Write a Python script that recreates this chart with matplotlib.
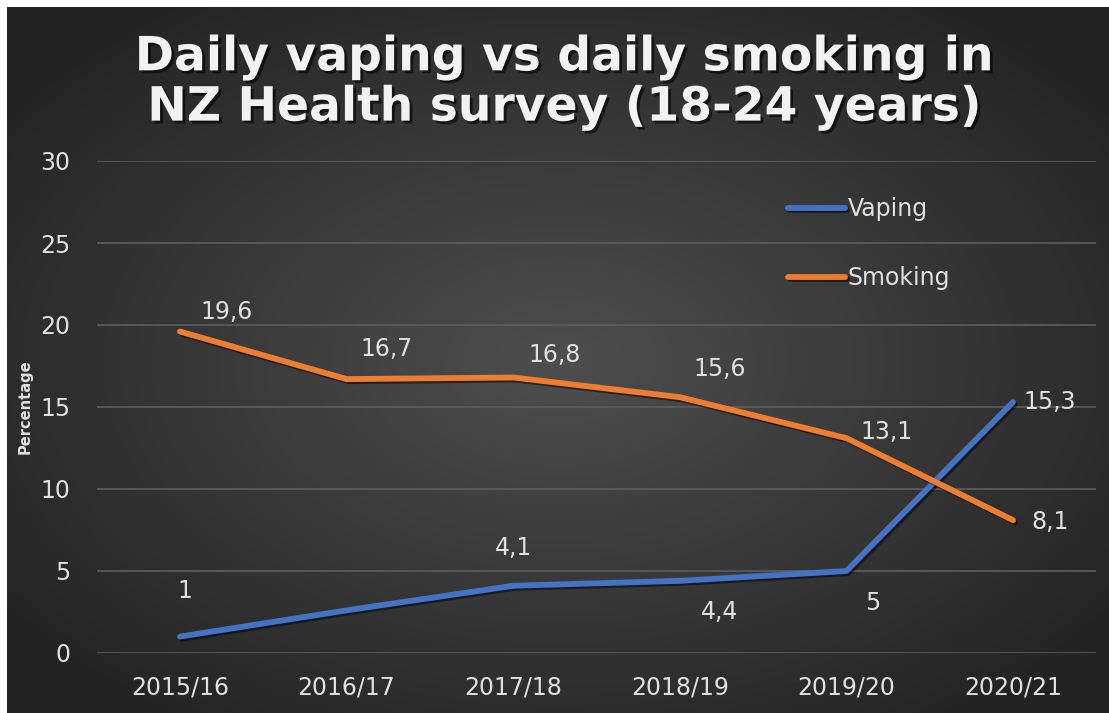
import matplotlib
matplotlib.use("Agg")
import matplotlib.pyplot as plt
import matplotlib.patheffects as pe
import numpy as np

categories = ["2015/16", "2016/17", "2017/18", "2018/19", "2019/20", "2020/21"]
vaping = [1, 2.6, 4.1, 4.4, 5, 15.3]
smoking = [19.6, 16.7, 16.8, 15.6, 13.1, 8.1]
vaping_labels = ["1", None, "4,1", "4,4", "5", "15,3"]
smoking_labels = ["19,6", "16,7", "16,8", "15,6", "13,1", "8,1"]
yticks = [0, 5, 10, 15, 20, 25, 30]
title = "Daily vaping vs daily smoking in\nNZ Health survey (18-24 years)"

W, H = 1109, 713
fig = plt.figure(figsize=(W / 100, H / 100), dpi=100)
fig.patch.set_facecolor("white")

# background with radial gradient
bg = fig.add_axes([7 / W, 0, 1 - 7 / W, 1 - 7 / H])
bg.set_axis_off()
yy, xx = np.mgrid[0:200, 0:300]
cx, cy = 150, 100
r = np.sqrt(((xx - cx) / 150.0) ** 2 + ((yy - cy) / 100.0) ** 2)
r = np.clip(r / 1.3, 0, 1)
inner = np.array([0x4e, 0x4e, 0x4e]) / 255
outer = np.array([0x22, 0x22, 0x22]) / 255
img = inner[None, None, :] * (1 - r[..., None]) + outer[None, None, :] * r[..., None]
bg.imshow(img, aspect="auto", extent=[0, 1, 0, 1], interpolation="bilinear")
bg.set_xlim(0, 1)
bg.set_ylim(0, 1)

# main axes: x positions 180..1013 px, y 0 -> 653 px, 30 -> 161 px
step = (1013 - 180) / 5
left = 180 - step / 2
right = 1013 + step / 2
ax = fig.add_axes([left / W, (H - 653) / H, (right - left) / W, (653 - 161) / H])
ax.set_facecolor("none")
x = np.arange(len(categories))
ax.set_xlim(-0.5, len(categories) - 0.5)
ax.set_ylim(0, 30)
ax.set_yticks(yticks)
ax.set_xticks(x)
ax.set_xticklabels(categories)
ax.grid(axis="y", color="#5e5e5e", linewidth=1.2)
ax.set_axisbelow(True)
for s in ax.spines.values():
    s.set_visible(False)
ax.tick_params(length=0, colors="#e0e0e0", labelsize=17)
ax.tick_params(axis="x", pad=16)
ax.tick_params(axis="y", pad=19)
for t in ax.get_yticklabels() + ax.get_xticklabels():
    t.set_color("#e0e0e0")

shadow = [pe.SimpleLineShadow(offset=(1.5, -1.5), alpha=0.5, shadow_color="black"), pe.Normal()]
lv, = ax.plot(x, vaping, color="#4472C4", lw=4.2, solid_capstyle="round",
              solid_joinstyle="round", label="Vaping", path_effects=shadow)
ls, = ax.plot(x, smoking, color="#ED7D31", lw=4.2, solid_capstyle="round",
              solid_joinstyle="round", label="Smoking", path_effects=shadow)

ax.set_ylabel("Percentage", color="#e0e0e0", fontsize=10.5, fontweight="bold", labelpad=5)

# data labels (offsets in pixels)
smoke_off = [(47, 20), (40, 30), (41, 22), (40, 28), (40, 6), (37, -2)]
vape_off = [(5, 46), None, (0, 38), (40, -31), (26, -32), (37, 0)]
lab_kw = dict(textcoords="offset pixels", ha="center", va="center",
              color="#e0e0e0", fontsize=17)
for i, (v, lab) in enumerate(zip(smoking, smoking_labels)):
    ax.annotate(lab, (x[i], v), xytext=smoke_off[i], **lab_kw)
for i, (v, lab) in enumerate(zip(vaping, vaping_labels)):
    if lab is None:
        continue
    ax.annotate(lab, (x[i], v), xytext=vape_off[i], **lab_kw)

leg = ax.legend(handles=[lv, ls], loc="upper left",
                bbox_to_anchor=((788 - left) / (right - left) - 0.021, 0.97),
                frameon=False, fontsize=17, labelcolor="#e0e0e0", handlelength=2.4,
                handletextpad=0.12, labelspacing=1.9)

fig.text(565 / W, 1 - 83 / H, title, ha="center", va="center", fontsize=34,
         fontweight="bold", color="#f2f2f2", linespacing=1.15,
         path_effects=[pe.withSimplePatchShadow(offset=(2, -2), shadow_rgbFace="black", alpha=0.6)])

fig.savefig("out.png", dpi=100, facecolor=fig.get_facecolor())
